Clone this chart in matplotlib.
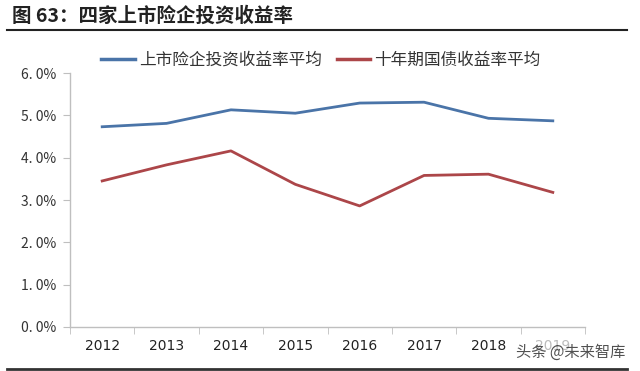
import matplotlib
matplotlib.use("Agg")
import matplotlib.pyplot as plt
from matplotlib.lines import Line2D

plt.rcParams['font.family'] = ['Noto Sans CJK SC', 'DejaVu Sans']

years = ["2012", "2013", "2014", "2015", "2016", "2017", "2018", "2019"]
insurer_yield = [4.73, 4.81, 5.13, 5.05, 5.29, 5.31, 4.93, 4.87]
bond_yield = [3.45, 3.83, 4.16, 3.37, 2.86, 3.58, 3.61, 3.18]
series_names = ["上市险企投资收益率平均", "十年期国债收益率平均"]
ytick_vals = [0, 1, 2, 3, 4, 5, 6]
ytick_labels = ["0. 0%", "1. 0%", "2. 0%", "3. 0%", "4. 0%", "5. 0%", "6. 0%"]
title = "图 63：四家上市险企投资收益率"

fig = plt.figure(figsize=(6.4, 3.71), dpi=100)
W, H = 640, 371
ax = fig.add_axes([70 / W, 1 - 327 / H, (585 - 70) / W, (327 - 73) / H])

blue = "#4A74A8"
red = "#AC4649"
x = list(range(len(years)))
ax.plot(x, insurer_yield, color=blue, lw=2.0, solid_joinstyle='round')
ax.plot(x, bond_yield, color=red, lw=2.0, solid_joinstyle='round')

ax.set_xlim(-0.5, len(years) - 0.5)
ax.set_ylim(0, 6)
ax.set_yticks(ytick_vals)
ax.set_yticklabels(ytick_labels, fontsize=10, color="#333333")
ax.set_xticks(x)
ax.set_xticklabels(years, fontsize=10, color="#222222", family=['DejaVu Sans'])
ax.get_xticklabels()[-1].set_color("#BBBBBB")
ax.set_xticks([i - 0.5 for i in range(len(years) + 1)], minor=True)
ax.tick_params(axis='x', which='major', length=0, pad=9)
ax.tick_params(axis='x', which='minor', length=5, color="#BFBFBF", direction='out')
ax.tick_params(axis='y', length=5, color="#BFBFBF", direction='out', pad=5)
for s in ['top', 'right']:
    ax.spines[s].set_visible(False)
for s in ['left', 'bottom']:
    ax.spines[s].set_color("#BFBFBF")
    ax.spines[s].set_linewidth(1.0)

# title and rules
fig.text(12 / W, 1 - 16 / H, title, fontsize=14, fontweight='bold', color="#222222",
         va='center', ha='left')
fig.add_artist(Line2D([7 / W, 627 / W], [1 - 30 / H, 1 - 30 / H], color="#222222", lw=1.5))
fig.add_artist(Line2D([7 / W, 627 / W], [1 - 369 / H, 1 - 369 / H], color="#333333", lw=2.0))

# legend
handles = [Line2D([0], [0], color=blue, lw=2.5), Line2D([0], [0], color=red, lw=2.5)]
fig.legend(handles, series_names, loc='center', bbox_to_anchor=(321 / W, 1 - 60 / H),
           ncol=2, frameon=False, fontsize=12, handlelength=2.0, handletextpad=0.25,
           columnspacing=0.9, labelcolor="#333333")

# watermark
fig.text(516 / W, 1 - 352 / H, "头条 @未来智库", fontsize=11, color="#333333",
         va='center', ha='left', alpha=0.85)

fig.savefig("out.png", dpi=100)
